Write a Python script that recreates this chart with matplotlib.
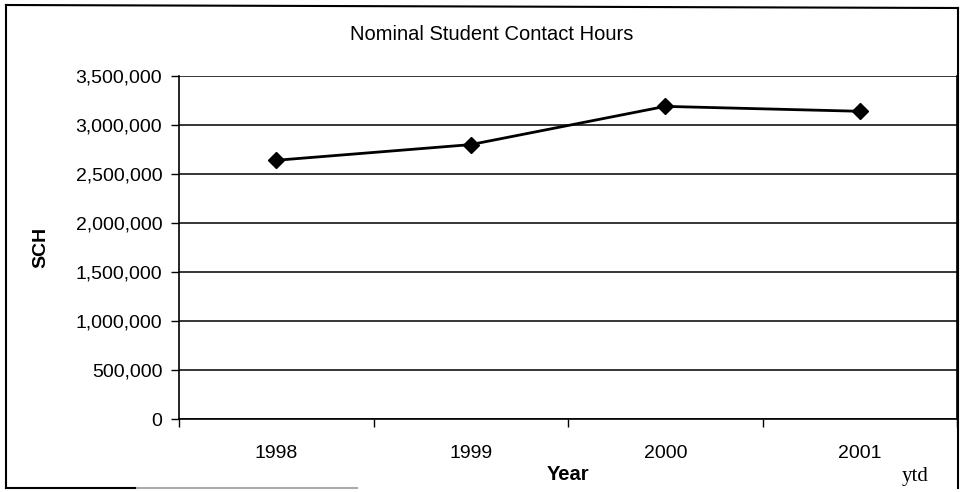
import matplotlib.pyplot as plt
from matplotlib.lines import Line2D
from matplotlib.ticker import FuncFormatter

years = ['1998', '1999', '2000', '2001']
sch = [2640000, 2800000, 3190000, 3140000]
yticks = [0, 500000, 1000000, 1500000, 2000000, 2500000, 3000000, 3500000]

plt.rcParams['font.family'] = ['Liberation Sans', 'DejaVu Sans']

W, H = 963, 492
fig = plt.figure(figsize=(W / 100, H / 100), dpi=100)
ax = fig.add_axes([179 / W, 1 - 419 / H, (957 - 179) / W, (419 - 76) / H])

x = list(range(len(years)))
ax.plot(x, sch, color='black', linewidth=2, marker='D', markersize=8,
        markerfacecolor='black', markeredgecolor='black')

ax.set_ylim(0, 3500000)
ax.set_xlim(-0.5, len(years) - 0.5)
ax.set_yticks(yticks)
ax.yaxis.set_major_formatter(FuncFormatter(lambda v, p: f'{int(v):,}'))
ax.grid(True, axis='y', color='black', linewidth=1.1)
ax.set_axisbelow(True)

# category ticks sit between the years, labels sit at the centres
ax.set_xticks([i - 0.5 for i in range(len(years) + 1)])
ax.set_xticklabels([])
ax.set_xticks(x, minor=True)
ax.set_xticklabels(years, minor=True)
ax.tick_params(axis='x', which='minor', length=0, pad=19, labelsize=14)
ax.tick_params(axis='x', which='major', length=6, width=1, direction='out')
ax.tick_params(axis='y', length=6, width=1, direction='out', pad=6, labelsize=14)

for s in ['left', 'bottom', 'right']:
    ax.spines[s].set_linewidth(1.2)
ax.spines['top'].set_visible(False)

fig.text(492 / W, 1 - 34 / H, 'Nominal Student Contact Hours', ha='center', va='center', fontsize=14.5)
fig.text(41 / W, 1 - 247 / H, 'SCH', rotation=90, ha='center', va='center',
         fontsize=14, fontweight='bold')
fig.text(568 / W, 1 - 475 / H, 'Year', ha='center', va='center', fontsize=14.5, fontweight='bold')
fig.text(915 / W, 1 - 476 / H, 'ytd', ha='center', va='center', fontsize=15,
         family=['Liberation Serif', 'DejaVu Serif'])

# outer chart border, bottom edge only partly printed
def fline(x0, y0, x1, y1, color='black', lw=1.5):
    fig.add_artist(Line2D([x0 / W, x1 / W], [1 - y0 / H, 1 - y1 / H], color=color, linewidth=lw))

fline(6, 5, 958, 8)
fline(6, 5, 6, 488)
fline(958, 8, 958, 488)
fline(6, 488, 137, 488)
fline(137, 488, 357, 488, color='#aaaaaa')

fig.savefig('out.png', dpi=100)
